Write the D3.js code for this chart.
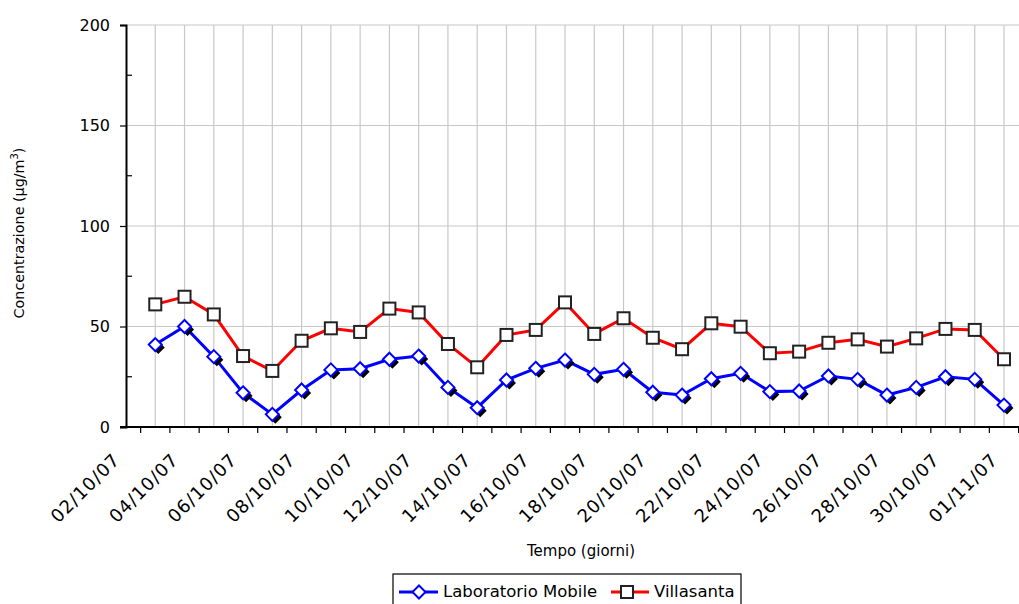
<!DOCTYPE html>
<html>
<head>
<meta charset="utf-8">
<script src="https://cdn.jsdelivr.net/npm/d3@7"></script>
<style>
  body { margin: 0; background: #fff; }
  svg text { font-family: "DejaVu Sans", sans-serif; fill: #000; }
</style>
</head>
<body>
<svg id="chart" width="1019" height="604"></svg>
<script>
// all days on the category axis (first day has no data)
const dates = [
    "02/10/07", "03/10/07", "04/10/07", "05/10/07", "06/10/07", "07/10/07", "08/10/07",
    "09/10/07", "10/10/07", "11/10/07", "12/10/07", "13/10/07", "14/10/07", "15/10/07",
    "16/10/07", "17/10/07", "18/10/07", "19/10/07", "20/10/07", "21/10/07", "22/10/07",
    "23/10/07", "24/10/07", "25/10/07", "26/10/07", "27/10/07", "28/10/07", "29/10/07",
    "30/10/07", "31/10/07", "01/11/07"
];
const dataDates = dates.slice(1);
const labelDates = dates.filter((d, i) => i % 2 === 0);

const laboratorio = [41, 50, 35, 17, 6.3, 18.4, 28.4, 29, 33.7, 35.3, 19.7, 9.6, 23.4, 29.2, 33.3,
    26.2, 28.7, 17.3, 15.9, 24, 26.7, 17.6, 17.9, 25.4, 23.7, 15.9, 19.7, 25, 23.7, 10.9];
const villasanta = [61, 64.8, 56, 35.3, 27.9, 42.9, 49.1, 47.3, 58.9, 57, 41.3, 29.7, 45.8, 48.3, 62,
    46.3, 54.1, 44.4, 38.7, 51.6, 49.9, 36.7, 37.5, 41.9, 43.6, 40, 44.1, 48.8, 48.3, 33.7];

const yTicks = [0, 50, 100, 150, 200];
const yMinor = [25, 75, 125, 175];

const svg = d3.select("#chart");
const plotLeft = 126, plotRight = 1019, plotTop = 25, plotBottom = 427;

const x = d3.scalePoint().domain(dates).range([plotLeft, 1004]);
const step = x.step();
const y = d3.scaleLinear().domain([0, 200]).range([plotBottom, plotTop]);

// grid
svg.append("g").selectAll("line").data(dataDates).join("line")
    .attr("x1", d => x(d)).attr("x2", d => x(d))
    .attr("y1", plotTop).attr("y2", plotBottom)
    .attr("stroke", "#c8c8c8").attr("stroke-width", 1.2);
svg.append("g").selectAll("line").data(yTicks.slice(1)).join("line")
    .attr("x1", plotLeft).attr("x2", plotRight)
    .attr("y1", d => y(d)).attr("y2", d => y(d))
    .attr("stroke", "#c8c8c8").attr("stroke-width", 1.2);

// y axis
const yAxis = svg.append("g").attr("transform", `translate(${plotLeft},0)`)
    .call(d3.axisLeft(y).tickValues(yTicks).tickSize(6).tickPadding(10));
yAxis.select(".domain").attr("stroke", "#000").attr("stroke-width", 2);
yAxis.selectAll(".tick line").attr("stroke", "#000").attr("stroke-width", 1.2);
yAxis.selectAll(".tick text").attr("font-size", 16).attr("font-family", "DejaVu Sans");
svg.append("g").selectAll("line").data(yMinor).join("line")
    .attr("x1", plotLeft).attr("x2", plotLeft + 6)
    .attr("y1", d => y(d)).attr("y2", d => y(d))
    .attr("stroke", "#000").attr("stroke-width", 1.2);

// x axis
svg.append("line")
    .attr("x1", plotLeft - 6).attr("x2", plotRight)
    .attr("y1", plotBottom).attr("y2", plotBottom)
    .attr("stroke", "#000").attr("stroke-width", 2);
svg.append("g").selectAll("line").data(dates).join("line")
    .attr("x1", d => x(d) + step / 2).attr("x2", d => x(d) + step / 2)
    .attr("y1", plotBottom).attr("y2", plotBottom + 6)
    .attr("stroke", "#000").attr("stroke-width", 1.2);
svg.append("g").selectAll("text").data(labelDates).join("text")
    .attr("transform", d => `translate(${x(d) - 5},461) rotate(-45)`)
    .attr("text-anchor", "end")
    .attr("font-size", 18)
    .attr("letter-spacing", 1)
    .text(d => d);

// axis titles
svg.append("text")
    .attr("transform", "translate(24,233) rotate(-90)")
    .attr("text-anchor", "middle")
    .attr("font-size", 14.3)
    .attr("font-family", "Liberation Sans")
    .html('Concentrazione (µg/m<tspan dy="-6" font-size="10">3</tspan><tspan dy="6">)</tspan>');
svg.append("text")
    .attr("x", 581).attr("y", 556)
    .attr("text-anchor", "middle")
    .attr("font-size", 15)
    .text("Tempo (giorni)");

// series
const line = d3.line().x(d => x(d[0])).y(d => y(d[1]));
const blueData = d3.zip(dataDates, laboratorio);
const redData = d3.zip(dataDates, villasanta);

svg.append("path").datum(redData).attr("d", line)
    .attr("fill", "none").attr("stroke", "#ff0000").attr("stroke-width", 3);
svg.append("g").selectAll("rect").data(redData).join("rect")
    .attr("x", d => x(d[0]) - 6).attr("y", d => y(d[1]) - 6)
    .attr("width", 12).attr("height", 12)
    .attr("fill", "#fff").attr("stroke", "#222").attr("stroke-width", 2);

svg.append("path").datum(blueData).attr("d", line)
    .attr("fill", "none").attr("stroke", "#0000ff").attr("stroke-width", 3);
const diamond = "M0,-6.5L6.5,0L0,6.5L-6.5,0Z";
svg.append("g").selectAll("path").data(blueData).join("path")
    .attr("d", diamond)
    .attr("transform", d => `translate(${x(d[0]) + 3},${y(d[1]) + 3})`)
    .attr("fill", "#000");
svg.append("g").selectAll("path").data(blueData).join("path")
    .attr("d", diamond)
    .attr("transform", d => `translate(${x(d[0])},${y(d[1])})`)
    .attr("fill", "#fff").attr("stroke", "#0000ff").attr("stroke-width", 2);

// legend
const lg = svg.append("g");
lg.append("rect").attr("x", 393).attr("y", 574).attr("width", 348).attr("height", 40)
    .attr("fill", "#fff").attr("stroke", "#000").attr("stroke-width", 1.2);
lg.append("line").attr("x1", 399).attr("x2", 438).attr("y1", 592).attr("y2", 592)
    .attr("stroke", "#0000ff").attr("stroke-width", 3);
lg.append("path").attr("d", diamond).attr("transform", "translate(419,592)")
    .attr("fill", "#fff").attr("stroke", "#0000ff").attr("stroke-width", 2);
lg.append("text").attr("x", 443).attr("y", 597).attr("font-size", 16.5).text("Laboratorio Mobile");
lg.append("line").attr("x1", 611).attr("x2", 649).attr("y1", 592).attr("y2", 592)
    .attr("stroke", "#ff0000").attr("stroke-width", 3);
lg.append("rect").attr("x", 621).attr("y", 586).attr("width", 12).attr("height", 12)
    .attr("fill", "#fff").attr("stroke", "#222").attr("stroke-width", 2);
lg.append("text").attr("x", 654).attr("y", 597).attr("font-size", 16.5).text("Villasanta");
</script>
</body>
</html>
